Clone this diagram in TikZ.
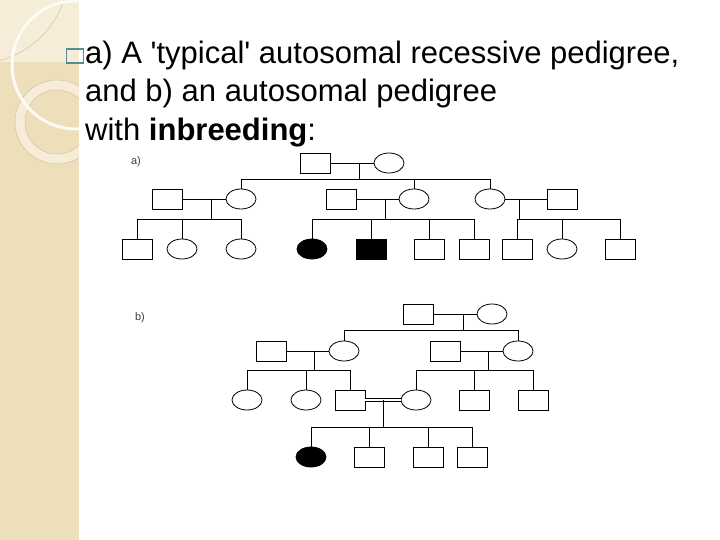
\documentclass[tikz,border=0pt]{standalone}
\usepackage{fontspec}
\setmainfont{Liberation Sans}
\usetikzlibrary{shapes.geometric}
\definecolor{sidebeige}{RGB}{238,223,187}
\definecolor{sidelight}{RGB}{245,237,216}
\definecolor{sideline}{RGB}{210,194,158}
\definecolor{bulletteal}{RGB}{88,140,150}

\begin{document}
\begin{tikzpicture}[x=1pt, y=-1pt,
  male/.style={rectangle, draw, line width=0.8pt,
               minimum width=30pt, minimum height=20pt, inner sep=0pt},
  female/.style={ellipse, draw, line width=0.8pt,
                 minimum width=30pt, minimum height=20pt, inner sep=0pt},
  affected/.style={fill=black},
  link/.style={line width=0.8pt},
  kin/.style={line width=0.8pt, double, double distance=1.6pt},
  heading/.style={anchor=base west, inner sep=0pt, font=\fontsize{31}{38}\selectfont},
  tag/.style={font=\fontsize{11}{13}\selectfont, text=black!75, inner sep=0pt}
]
\useasboundingbox (0,0) rectangle (720,540);
\fill[white] (0,0) rectangle (720,540);

% Side strip
\fill[sidebeige] (0,0) rectangle (79,540);
\fill[sidelight] (0,0) rectangle (79,62);
\begin{scope}
  \clip (0,0) rectangle (79,540);
  \draw[sideline, line width=0.5pt] (-25,-30) circle[radius=94pt];
  \fill[sidelight, even odd rule] (57,122) circle[radius=42pt] (57,122) circle[radius=32pt];
  \draw[sideline, line width=0.5pt] (57,122) circle[radius=42pt];
  \draw[sideline, line width=0.5pt] (57,122) circle[radius=32pt];
  \draw[white!85!sidebeige, line width=3pt] (76,65) circle[radius=64pt];
\end{scope}

% Heading
\node[draw=bulletteal, line width=1.2pt, minimum width=17pt, minimum height=14pt,
      inner sep=0pt] (bullet) at (75,56) {};
\node[heading] (line1) at (85,64)
  {a) A \textquotesingle typical\textquotesingle{} autosomal recessive pedigree,};
\node[heading] (line2) at (85,102) {and b) an autosomal pedigree};
\node[heading] (line3) at (85,141) {with \textbf{inbreeding}:};

% ---------- a) ----------
\node[tag] (taga) at (136,162) {a)};

% Generation I
\node[male] (A1) at (315.5,163) {};
\node[female] (A2) at (389,163) {};
% Generation II
\node[male] (A3) at (167,199) {};
\node[female] (A4) at (241,199) {};
\node[male] (A5) at (341.5,199) {};
\node[female] (A6) at (414,199) {};
\node[female] (A7) at (490,199) {};
\node[male] (A8) at (562.5,199) {};
% Generation III
\node[male] (A9) at (137,249) {};
\node[female] (A10) at (182,249) {};
\node[female] (A11) at (241,249) {};
\node[female, affected] (A12) at (312,249) {};
\node[male, affected] (A13) at (371,249) {};
\node[male] (A14) at (429,249) {};
\node[male] (A15) at (474,249) {};
\node[male] (A16) at (517,249) {};
\node[female] (A17) at (562,249) {};
\node[male] (A18) at (620,249) {};

% Matings and sibships
\coordinate (mA1) at (359,163);
\coordinate (sA1) at (359,179);
\coordinate (mA2) at (211,199);
\coordinate (sA2) at (211,219);
\coordinate (mA3) at (385,199);
\coordinate (sA3) at (385,219);
\coordinate (mA4) at (519,199);
\coordinate (sA4) at (519,219);

\draw[link] (A1.east) -- (A2.west);
\draw[link] (mA1) -- (sA1);
\draw[link] (sA1) -| (A4.north);
\draw[link] (sA1) -| (A6.north);
\draw[link] (sA1) -| (A7.north);

\draw[link] (A3.east) -- (A4.west);
\draw[link] (mA2) -- (sA2);
\draw[link] (sA2) -| (A9.north);
\draw[link] (sA2) -| (A10.north);
\draw[link] (sA2) -| (A11.north);

\draw[link] (A5.east) -- (A6.west);
\draw[link] (mA3) -- (sA3);
\draw[link] (sA3) -| (A12.north);
\draw[link] (sA3) -| (A13.north);
\draw[link] (sA3) -| (A14.north);
\draw[link] (sA3) -| (A15.north);

\draw[link] (A7.east) -- (A8.west);
\draw[link] (mA4) -- (sA4);
\draw[link] (sA4) -| (A16.north);
\draw[link] (sA4) -| (A17.north);
\draw[link] (sA4) -| (A18.north);

% ---------- b) ----------
\node[tag] (tagb) at (140,318) {b)};

% Generation I
\node[male] (B1) at (418,314) {};
\node[female] (B2) at (492,314) {};
% Generation II
\node[male] (B3) at (271,351) {};
\node[female] (B4) at (344,351) {};
\node[male] (B5) at (445,351) {};
\node[female] (B6) at (518,351) {};
% Generation III
\node[female] (B7) at (247,400) {};
\node[female] (B8) at (306,400) {};
\node[male] (B9) at (350,400) {};
\node[female] (B10) at (416,400) {};
\node[male] (B11) at (474,400) {};
\node[male] (B12) at (533,400) {};
% Generation IV
\node[female, affected] (B13) at (311,457) {};
\node[male] (B14) at (369,457) {};
\node[male] (B15) at (428,457) {};
\node[male] (B16) at (472,457) {};

% Matings and sibships
\coordinate (mB1) at (463,314);
\coordinate (sB1) at (463,330);
\coordinate (mB2) at (314,351);
\coordinate (sB2) at (314,370);
\coordinate (mB3) at (488,351);
\coordinate (sB3) at (488,370);
\coordinate (mB4) at (383,400);
\coordinate (sB4) at (383,427);

\draw[link] (B1.east) -- (B2.west);
\draw[link] (mB1) -- (sB1);
\draw[link] (sB1) -| (B4.north);
\draw[link] (sB1) -| (B6.north);

\draw[link] (B3.east) -- (B4.west);
\draw[link] (mB2) -- (sB2);
\draw[link] (sB2) -| (B7.north);
\draw[link] (sB2) -| (B8.north);
\draw[link] (sB2) -| (B9.north);

\draw[link] (B5.east) -- (B6.west);
\draw[link] (mB3) -- (sB3);
\draw[link] (sB3) -| (B10.north);
\draw[link] (sB3) -| (B11.north);
\draw[link] (sB3) -| (B12.north);

% Consanguineous mating
\draw[kin] (B9.east) -- (B10.west);
\draw[link] (mB4) -- (sB4);
\draw[link] (sB4) -| (B13.north);
\draw[link] (sB4) -| (B14.north);
\draw[link] (sB4) -| (B15.north);
\draw[link] (sB4) -| (B16.north);
\end{tikzpicture}
\end{document}
